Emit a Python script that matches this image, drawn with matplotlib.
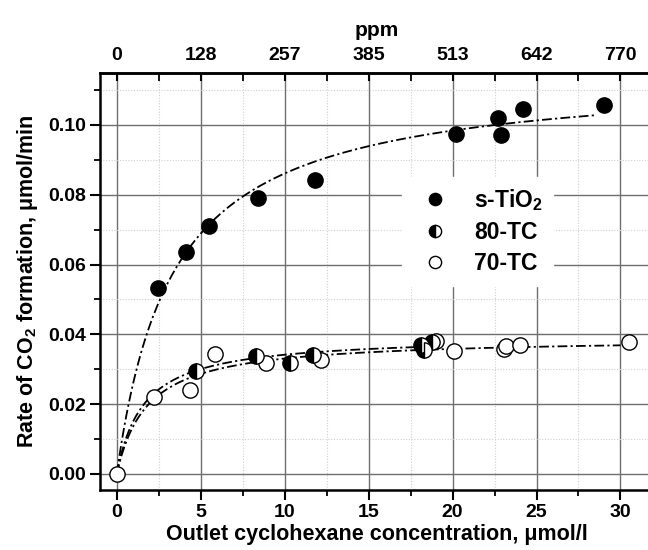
import numpy as np
import matplotlib
matplotlib.use("Agg")
import matplotlib.pyplot as plt
from matplotlib.ticker import MultipleLocator, FormatStrFormatter

plt.rcParams['font.family'] = ['Liberation Sans', 'DejaVu Sans']
plt.rcParams['font.weight'] = 'bold'
plt.rcParams['mathtext.fontset'] = 'custom'
plt.rcParams['mathtext.rm'] = 'Liberation Sans:bold'
plt.rcParams['mathtext.it'] = 'Liberation Sans:bold'
plt.rcParams['mathtext.bf'] = 'Liberation Sans:bold'

# ---- data ----
tio2_x = [2.44, 4.10, 5.48, 8.39, 11.8, 20.2, 22.7, 22.9, 24.2, 29.0]
tio2_y = [0.0534, 0.0637, 0.0711, 0.0791, 0.0843, 0.0974, 0.1020, 0.0971, 0.1046, 0.1057]

tc80_x = [4.70, 8.27, 10.3, 11.69, 18.1, 18.3, 18.8]
tc80_y = [0.0296, 0.0337, 0.0318, 0.0340, 0.0371, 0.0356, 0.0378]

tc70_x = [0.0, 2.22, 4.35, 5.86, 8.87, 12.18, 19.0, 20.1, 23.05, 23.2, 24.0, 30.5]
tc70_y = [0.0, 0.0221, 0.0240, 0.0343, 0.0318, 0.0328, 0.0380, 0.0352, 0.0357, 0.0368, 0.0371, 0.0378]

# Langmuir-Hinshelwood fit parameters (rmax, K, end of fitted range)
fit_tio2 = (0.1148, 0.30, 28.45)
fit_80 = (0.0396, 0.63, 18.8)
fit_70 = (0.0391, 0.55, 30.0)

x_ticks = [0, 5, 10, 15, 20, 25, 30]
ppm_labels = ['0', '128', '257', '385', '513', '642', '770']
y_ticks = [0.00, 0.02, 0.04, 0.06, 0.08, 0.10]

fig = plt.figure(figsize=(6.48, 5.5), dpi=100)
ax = fig.add_axes([0.1543, 0.109, 0.855, 0.759])

ax.set_xlim(-1, 32)
ax.set_ylim(-0.0046, 0.115)

# grid
ax.set_xticks(x_ticks)
ax.xaxis.set_minor_locator(MultipleLocator(2.5))
ax.set_yticks(y_ticks)
ax.yaxis.set_minor_locator(MultipleLocator(0.01))
ax.yaxis.set_major_formatter(FormatStrFormatter('%.2f'))
ax.grid(True, which='major', color='#6e6e6e', lw=1.0, ls='-', zorder=0)
ax.grid(True, which='minor', color='#cfcfcf', lw=0.8, ls=(0, (1, 1.5)), zorder=0)
ax.set_axisbelow(True)

dashdot = (0, (5.4, 1.8, 1.2, 1.8))

def lh_curve(params, n=200):
    rmax, K, xend = params
    c = np.linspace(0, xend, n)
    return c, rmax * K * c / (1 + K * c)

for p in (fit_tio2, fit_80, fit_70):
    cx, cy = lh_curve(p)
    ax.plot(cx, cy, color='black', lw=1.3, ls=dashdot, zorder=2)

ms = 11
ax.plot(tio2_x, tio2_y, 'o', ms=ms, mfc='black', mec='black', mew=1.0,
        label='s-TiO$_2$', zorder=3)
ax.plot(tc80_x, tc80_y, 'o', ms=ms, fillstyle='left', mfc='black',
        markerfacecoloralt='white', mec='black', mew=1.0, label='80-TC', zorder=4)
ax.plot(tc70_x, tc70_y, 'o', ms=ms, mfc='white', mec='black', mew=1.0,
        label='70-TC', zorder=3)

leg = ax.legend(loc='upper left', bbox_to_anchor=(0.545, 0.75), frameon=True,
                fontsize=16.5, markerscale=0.8, handlelength=2.0, handletextpad=0.7,
                labelspacing=0.35, borderpad=0.45, borderaxespad=0)
leg.get_frame().set_facecolor('white')
leg.get_frame().set_edgecolor('white')
leg.get_frame().set_alpha(1.0)
leg.get_frame().set_boxstyle('square', pad=0)

# spines and ticks
for s in ['left', 'bottom', 'top']:
    ax.spines[s].set_linewidth(1.8)
ax.spines['right'].set_visible(False)
ax.tick_params(which='major', direction='out', length=7, width=1.5, labelsize=14, pad=3)
ax.tick_params(which='minor', direction='out', length=4, width=1.3)
ax.tick_params(axis='both', which='both', top=False, right=False)

ax.set_xlabel('Outlet cyclohexane concentration, μmol/l', fontsize=15.5, fontweight='bold', labelpad=2)
ax.set_ylabel('Rate of CO$_2$ formation, μmol/min', fontsize=15.5, fontweight='bold', labelpad=6)

# top ppm axis
top = ax.twiny()
top.set_xlim(ax.get_xlim())
top.set_xticks(x_ticks)
top.set_xticklabels(ppm_labels)
top.xaxis.set_minor_locator(MultipleLocator(2.5))
top.tick_params(which='major', direction='in', length=6, width=1.5, labelsize=14, pad=6)
top.tick_params(which='minor', direction='in', length=6, width=1.3)
top.set_xlabel('ppm', fontsize=15, fontweight='bold', labelpad=8)
for s in top.spines.values():
    s.set_visible(False)
top.spines['top'].set_visible(True)
top.spines['top'].set_linewidth(1.8)

fig.savefig('out.png', dpi=100)
